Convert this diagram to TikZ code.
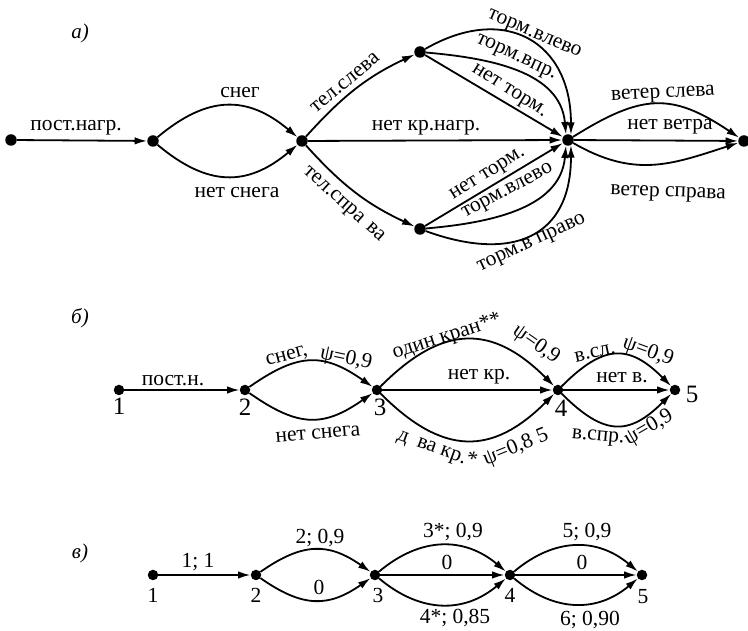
\documentclass[tikz,border=0pt]{standalone}
\usepackage{fontspec}
\setmainfont{Liberation Serif}
\usetikzlibrary{arrows.meta}
\begin{document}
\begin{tikzpicture}[x=1pt,y=1pt,
  dot/.style={circle,fill,inner sep=0pt,minimum size=11.5pt},
  sdot/.style={circle,fill,inner sep=0pt,minimum size=10.5pt},
  edge/.style={line width=1.8pt,-{Latex[length=12.5pt,width=7.5pt]}},
  lbl/.style={inner sep=0pt,font=\fontsize{21.5}{24}\selectfont},
  num/.style={inner sep=0pt,font=\fontsize{25}{27}\selectfont},
  sec/.style={inner sep=0pt,font=\fontsize{21}{23}\selectfont\itshape}]
\useasboundingbox (0,0) rectangle (748,631);
\fill[white] (0,0) rectangle (748,631);

% ---------------- a) ----------------
\node[sec] (sa) at (80,598) {а)};
\node[dot] (A0) at (11,491) {};
\node[dot] (A1) at (153,490) {};
\node[dot] (A2) at (302,490) {};
\node[dot] (A3) at (420,579) {};
\node[dot] (A4) at (420,402) {};
\node[dot] (A5) at (568,491) {};
\node[dot] (A6) at (744,490) {};

\draw[edge] (A0) -- (A1);
\draw[edge] (A1) to[out=40,in=140,looseness=1.2] (A2);
\draw[edge] (A1) to[out=-40,in=-140,looseness=1.2] (A2);
\draw[edge] (A2) to[out=48,in=205] (A3);
\draw[edge] (A2) to[out=-48,in=155] (A4);
\draw[edge] (A2) -- (A5);
\draw[edge] (A3) to[out=30,in=90,looseness=1.4] (A5.60);
\draw[edge] (A3) to[out=-5,in=95] (A5.110);
\draw[edge] (A3) -- (A5);
\draw[edge] (A4) -- (A5);
\draw[edge] (A4) to[out=5,in=-95] (A5.-110);
\draw[edge] (A4) to[out=-20,in=-90,looseness=1.4] (A5.-60);
\draw[edge] (A5) to[out=32,in=146,looseness=1.25] (A6);
\draw[edge] (A5) -- (A6);
\draw[edge] (A5) to[out=-30,in=198,looseness=1.1] (A6);

\node[lbl] (l01) at (76,503) {пост.нагр.};
\node[lbl] (l12a) at (240,538) {снег};
\node[lbl] (l12b) at (237,438) {нет снега};
\node[lbl,rotate=40] (l23) at (345,548) {тел.слева};
\node[lbl,rotate=-42] (l24) at (343,426) {тел.спра\hspace{8pt}ва};
\node[lbl] (l25) at (426,503) {нет кр.нагр.};
\node[lbl,rotate=-23] (l35a) at (534,596) {торм.влево};
\node[lbl,rotate=-25] (l35b) at (516,573) {торм.впр.};
\node[lbl,rotate=-32] (l35c) at (509,539) {нет торм.};
\node[lbl,rotate=32] (l45a) at (488,456) {нет торм.};
\node[lbl,rotate=28] (l45b) at (508,439) {торм.влево};
\node[lbl,rotate=25] (l45c) at (532,387) {торм.в право};
\node[lbl,rotate=3] (l56a) at (663,536) {ветер слева};
\node[lbl] (l56b) at (670,504) {нет ветра};
\node[lbl,rotate=-2] (l56c) at (668,437) {ветер справа};

% ---------------- б) ----------------
\node[sec] (sb) at (80,313) {б)};
\node[sdot] (B1) at (119,241) {};
\node[sdot] (B2) at (245,241) {};
\node[sdot] (B3) at (377,241) {};
\node[sdot] (B4) at (558,241) {};
\node[sdot] (B5) at (675,241) {};
\node[num] (nb1) at (119,225) {1};
\node[num] (nb2) at (245,224) {2};
\node[num] (nb3) at (380,224) {3};
\node[num] (nb4) at (561,223) {4};
\node[num] (nb5) at (692,237) {5};

\draw[edge] (B1) -- (B2);
\draw[edge] (B2) to[out=35,in=145,looseness=1.25] (B3);
\draw[edge] (B2) to[out=-35,in=-145,looseness=1.25] (B3);
\draw[edge] (B3) to[out=45,in=135,looseness=1.3] (B4);
\draw[edge] (B3) -- (B4);
\draw[edge] (B3) to[out=-45,in=-135,looseness=1.3] (B4);
\draw[edge] (B4) to[out=45,in=135,looseness=1.4] (B5);
\draw[edge] (B4) -- (B5);
\draw[edge] (B4) to[out=-45,in=-135,looseness=1.4] (B5);

\node[lbl] (m12) at (173,250) {пост.н.};
\node[lbl,rotate=15] (m23a) at (287,274) {снег,};
\node[lbl,rotate=-12] (m23b) at (346,272) {ψ=0,9};
\node[lbl,rotate=5] (m23c) at (318,197) {нет снега};
\node[lbl,rotate=18] (m34a) at (447,294) {один кран**};
\node[lbl,rotate=-35] (m34b) at (536,286) {ψ=0,9};
\node[lbl] (m34c) at (479,254) {нет кр.};
\node[lbl,rotate=-20] (m34d) at (437,182) {д\hspace{10pt}ва кр.*};
\node[lbl,rotate=22] (m34e) at (516,183) {ψ=0,8 5};
\node[lbl,rotate=12] (m45a) at (595,278) {в.сл.};
\node[lbl,rotate=-20] (m45b) at (648,279) {ψ=0,9};
\node[lbl] (m45c) at (622,253) {нет в.};
\node[lbl,rotate=-5] (m45d) at (598,193) {в.спр.};
\node[lbl,rotate=30] (m45e) at (649,203) {ψ=0,9};

% ---------------- в) ----------------
\node[sec] (sc) at (80,78) {в)};
\node[sdot] (C1) at (153,56) {};
\node[sdot] (C2) at (256,56) {};
\node[sdot] (C3) at (375,56) {};
\node[sdot] (C4) at (510,56) {};
\node[sdot] (C5) at (642,56) {};
\node[lbl] (nc1) at (153,36) {1};
\node[lbl] (nc2) at (256,36) {2};
\node[lbl] (nc3) at (378,36) {3};
\node[lbl] (nc4) at (510,36) {4};
\node[lbl] (nc5) at (643,34) {5};

\draw[edge] (C1) -- (C2);
\draw[edge] (C2) to[out=35,in=145,looseness=1.2] (C3);
\draw[edge] (C2) to[out=-35,in=-145,looseness=1.2] (C3);
\draw[edge] (C3) to[out=40,in=140,looseness=1.1] (C4);
\draw[edge] (C3) -- (C4);
\draw[edge] (C3) to[out=-40,in=-140,looseness=1.1] (C4);
\draw[edge] (C4) to[out=40,in=140,looseness=1.1] (C5);
\draw[edge] (C4) -- (C5);
\draw[edge] (C4) to[out=-40,in=-140,looseness=1.1] (C5);

\node[lbl] (k12) at (198,69) {1; 1};
\node[lbl] (k23a) at (320,93) {2; 0,9};
\node[lbl] (k23b) at (319,44) {0};
\node[lbl] (k34a) at (453,99) {3*; 0,9};
\node[lbl] (k34b) at (447,69) {0};
\node[lbl] (k34c) at (455,13) {4*; 0,85};
\node[lbl] (k45a) at (587,99) {5; 0,9};
\node[lbl] (k45b) at (582,69) {0};
\node[lbl] (k45c) at (590,11) {6; 0,90};
\end{tikzpicture}
\end{document}
